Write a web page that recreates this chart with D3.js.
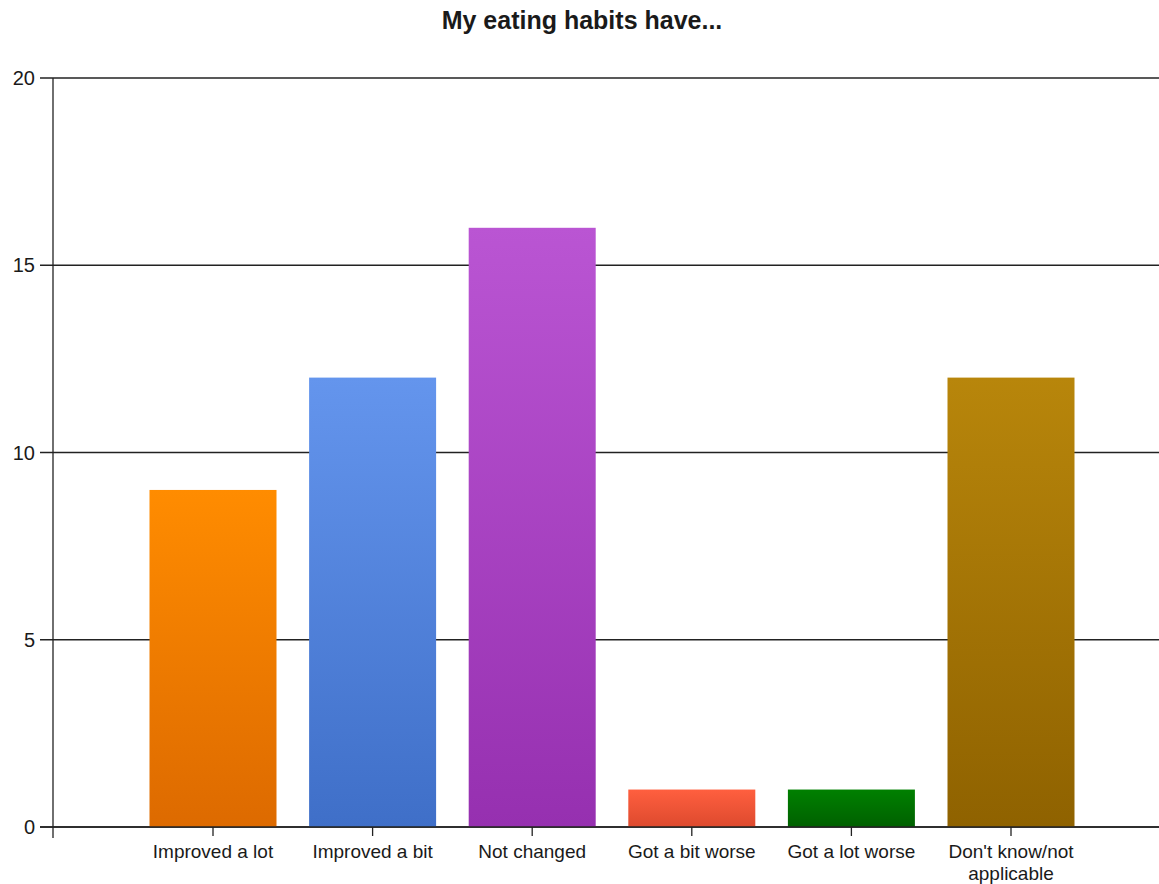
<!DOCTYPE html>
<html>
<head>
<meta charset="utf-8">
<script src="https://cdn.jsdelivr.net/npm/d3@7"></script>
<style>
  body { margin: 0; background: #fff; }
  text { font-family: "Liberation Sans", Arial, sans-serif; fill: #1a1a1a; }
</style>
</head>
<body>
<div></div>
<script>
let categories = ["Improved a lot", "Improved a bit", "Not changed", "Got a bit worse", "Got a lot worse", "Don't know/not applicable"]
let values = [9, 12, 16, 1, 1, 12]
let yTicks = [0, 5, 10, 15, 20]
let topColors = ["#ff8c00", "#6495ed", "#ba55d3", "#ff5f3f", "#008000", "#b8860b"]
let bottomColors = ["#dd6a00", "#3f6fc8", "#9630b0", "#dd4a2e", "#006000", "#8f6200"]

let W = 1159, H = 884
let svg = d3.select("div")
    .append("svg")
    .attr("width", W)
    .attr("height", H)

// gradients for bars
let defs = svg.append("defs")
categories.forEach((c, i) => {
    let g = defs.append("linearGradient")
        .attr("id", "grad" + i)
        .attr("x1", 0).attr("y1", 0).attr("x2", 0).attr("y2", 1)
    g.append("stop").attr("offset", "0%").attr("stop-color", topColors[i])
    g.append("stop").attr("offset", "100%").attr("stop-color", bottomColors[i])
})

let axisX = 53
let x = d3.scalePoint()
    .domain(categories)
    .range([213, 1011])
let barWidth = 127

let y = d3.scaleLinear()
    .domain([0, 20])
    .range([827, 78])

// grid lines
svg.append("g")
    .selectAll("line")
    .data(yTicks)
    .enter()
    .append("line")
    .attr("x1", 40)
    .attr("x2", W)
    .attr("y1", d => y(d))
    .attr("y2", d => y(d))
    .attr("stroke", "#222")
    .attr("stroke-width", 1.3)

// y tick labels
svg.append("g")
    .selectAll("text")
    .data(yTicks)
    .enter()
    .append("text")
    .attr("x", 35)
    .attr("y", d => y(d))
    .attr("dy", "0.36em")
    .attr("text-anchor", "end")
    .style("font-size", "20px")
    .text(d => d)

// bars
svg.selectAll("rect.bar")
    .data(values)
    .enter()
    .append("rect")
    .attr("class", "bar")
    .attr("x", (d, i) => x(categories[i]) - barWidth / 2)
    .attr("width", barWidth)
    .attr("y", d => y(d))
    .attr("height", d => y(0) - y(d))
    .attr("fill", (d, i) => "url(#grad" + i + ")")

// y axis line
svg.append("line")
    .attr("x1", axisX).attr("x2", axisX)
    .attr("y1", y(20)).attr("y2", y(0) + 11)
    .attr("stroke", "#222")
    .attr("stroke-width", 1.3)

// x axis line + ticks
svg.append("line")
    .attr("x1", 40).attr("x2", W)
    .attr("y1", y(0)).attr("y2", y(0))
    .attr("stroke", "#222")
    .attr("stroke-width", 1.3)

svg.append("g")
    .selectAll("line")
    .data(categories)
    .enter()
    .append("line")
    .attr("x1", d => x(d)).attr("x2", d => x(d))
    .attr("y1", y(0)).attr("y2", y(0) + 9)
    .attr("stroke", "#222")
    .attr("stroke-width", 1.3)

// x labels, wrapped by hand for the long one
let labelLines = {"Don't know/not applicable": ["Don't know/not", "applicable"]}
let labels = svg.append("g")
    .selectAll("text")
    .data(categories)
    .enter()
    .append("text")
    .attr("x", d => x(d))
    .attr("y", 858)
    .attr("text-anchor", "middle")
    .style("font-size", "19px")
labels.each(function (d) {
    let lines = labelLines[d] || [d]
    lines.forEach((l, k) => {
        d3.select(this).append("tspan")
            .attr("x", x(d))
            .attr("dy", k === 0 ? 0 : 22)
            .text(l)
    })
})

// title
svg.append("text")
    .attr("x", 582)
    .attr("y", 29)
    .attr("text-anchor", "middle")
    .style("font-size", "25px")
    .style("font-weight", "bold")
    .text("My eating habits have...")
</script>
</body>
</html>
